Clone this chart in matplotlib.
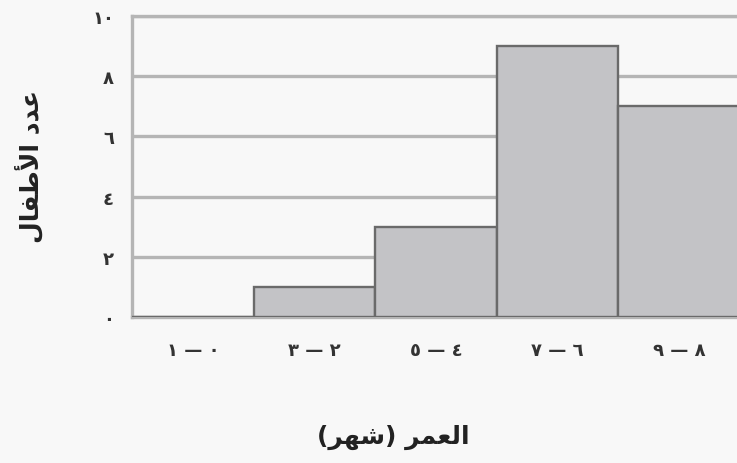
import matplotlib
matplotlib.use("Agg")
import matplotlib.pyplot as plt

# age groups (months) and number of children, Arabic-Indic digits as printed
age_labels = ["١ — ٠", "٣ — ٢", "٥ — ٤", "٧ — ٦", "٩ — ٨"]
children = [0, 1, 3, 9, 7]
y_ticks = [0, 2, 4, 6, 8, 10]
y_tick_labels = ["٠", "٢", "٤", "٦", "٨", "١٠"]

# matplotlib has no Arabic shaping/bidi, so the labels are written in
# presentation forms, in visual (left-to-right) order
x_title = "(\ufeae\ufeec\ufeb7) \ufeae\ufee4\ufecc\ufedf\ufe8d"        # العمر (شهر)
y_title = "\ufedd\ufe8e\ufed4\ufec3\ufef7\ufe8d \ufea9\ufeaa\ufecb"    # عدد الأطفال

bg = "#f8f8f8"
grid_col = "#b5b5b5"

fig = plt.figure(figsize=(7.37, 4.64), dpi=100, facecolor=bg)
ax = fig.add_axes([132 / 737, 1 - 318 / 464, 608 / 737, 301 / 464])
ax.set_facecolor(bg)

x = list(range(len(age_labels)))
ax.bar(x, children, width=1.0, color="#c3c3c6", edgecolor="#6a6a6a",
       linewidth=1.7, zorder=3)

ax.set_xlim(-0.5, len(age_labels) - 0.5)
ax.set_ylim(0, 10)
ax.set_yticks(y_ticks)
ax.set_yticklabels(y_tick_labels, fontsize=13, fontweight="bold", color="#333333")
ax.set_xticks(x)
ax.set_xticklabels(age_labels, fontsize=13, fontweight="bold", color="#333333")
ax.tick_params(axis="both", length=0)
ax.tick_params(axis="y", pad=13)
ax.tick_params(axis="x", pad=17)

ax.yaxis.grid(True, color=grid_col, linewidth=2.4, zorder=0)
for side in ["left", "top", "bottom"]:
    ax.spines[side].set_color(grid_col)
    ax.spines[side].set_linewidth(2.4)
ax.spines["right"].set_visible(False)

fig.text(393 / 737, 1 - 437 / 464, x_title, fontsize=18, fontweight="bold",
         ha="center", va="center", color="#222222")
fig.text(29 / 737, 1 - 166 / 464, y_title, fontsize=18, fontweight="bold",
         rotation=90, ha="center", va="center", color="#222222")

fig.savefig("out.png", dpi=100, facecolor=bg)
